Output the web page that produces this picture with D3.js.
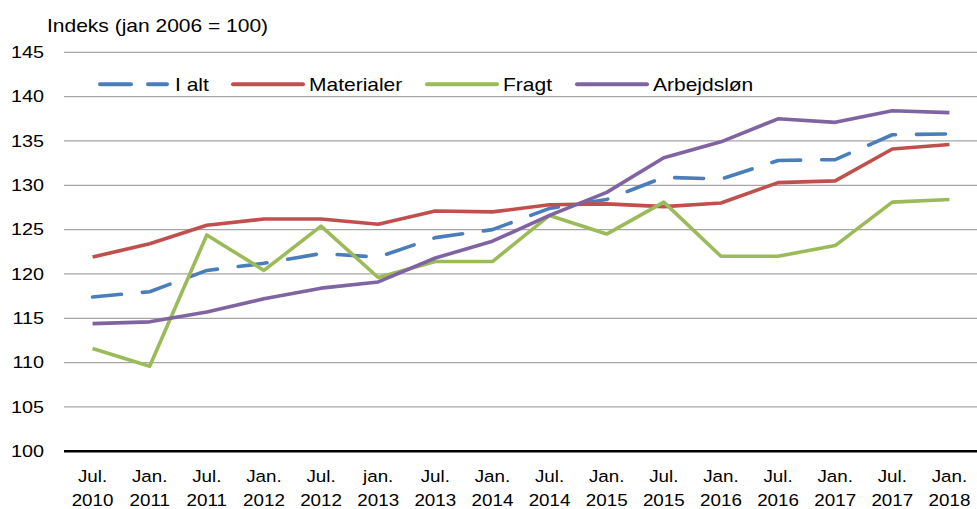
<!DOCTYPE html>
<html>
  <head>
    <meta charset="utf-8">
    <style>
      body { margin: 0; background: #fff; }
      text { font-family: "Liberation Sans", Arial, sans-serif; fill: #000; }
      .grid line { stroke: #a6a6a6; stroke-width: 1.3; }
      .series { fill: none; stroke-width: 3.6; stroke-linejoin: round; }
    </style>
  </head>
  <body>
    <svg width="977" height="509"></svg>
    <script src="https://cdn.jsdelivr.net/npm/d3@7"></script>
    <script>
      // Category labels (two lines each)
      var months = ["Jul.", "Jan.", "Jul.", "Jan.", "Jul.", "jan.", "Jul.", "Jan.",
                    "Jul.", "Jan.", "Jul.", "Jan.", "Jul.", "Jan.", "Jul.", "Jan."];
      var years = ["2010", "2011", "2011", "2012", "2012", "2013", "2013", "2014",
                   "2014", "2015", "2015", "2016", "2016", "2017", "2017", "2018"];
      var yTicks = [100, 105, 110, 115, 120, 125, 130, 135, 140, 145];

      var iAlt = [117.4, 118.0, 120.4, 121.2, 122.3, 121.9, 124.1, 125.0,
                  127.4, 128.4, 130.9, 130.7, 132.8, 132.9, 135.7, 135.8];
      var materialer = [121.9, 123.4, 125.5, 126.2, 126.2, 125.6, 127.1, 127.0,
                        127.8, 127.9, 127.6, 128.0, 130.3, 130.5, 134.1, 134.6];
      var fragt = [111.6, 109.6, 124.4, 120.4, 125.4, 119.6, 121.4, 121.4,
                   126.6, 124.5, 128.1, 122.0, 122.0, 123.2, 128.1, 128.4];
      var arbejdslon = [114.4, 114.6, 115.7, 117.2, 118.4, 119.1, 121.8, 123.7,
                        126.6, 129.2, 133.1, 134.9, 137.5, 137.1, 138.4, 138.2];

      var series = [
        { name: "I alt", values: iAlt, color: "#4a7ebb", dash: "29,21" },
        { name: "Materialer", values: materialer, color: "#c0504d", dash: null },
        { name: "Fragt", values: fragt, color: "#9bbb59", dash: null },
        { name: "Arbejdsløn", values: arbejdslon, color: "#8064a2", dash: null }
      ];

      var svg = d3.select("svg");
      var plotLeft = 64, plotRight = 978, plotTop = 52.3, plotBottom = 451.3;
      var sx = 1.2; // the reference glyphs are a bit wider than plain Arial

      var x = d3.scaleBand().domain(d3.range(months.length)).range([plotLeft, plotRight]);
      var y = d3.scaleLinear().domain([100, 145]).range([plotBottom, plotTop]);

      // Gridlines
      svg.append("g").attr("class", "grid")
        .selectAll("line")
        .data(yTicks.filter(d => d > 100))
        .enter().append("line")
        .attr("x1", plotLeft).attr("x2", plotRight)
        .attr("y1", d => y(d)).attr("y2", d => y(d));

      // Y axis labels
      svg.append("g")
        .selectAll("text")
        .data(yTicks)
        .enter().append("text")
        .attr("transform", d => `translate(44,${y(d) + 5.8}) scale(${sx},1)`)
        .attr("text-anchor", "end")
        .style("font-size", "16.5px")
        .text(d => d);

      // Title
      svg.append("text")
        .attr("transform", `translate(47,31.5) scale(${sx},1)`)
        .style("font-size", "17.5px")
        .text("Indeks (jan 2006 = 100)");

      // Lines
      var line = d3.line()
        .x((d, i) => x(i) + x.bandwidth() / 2)
        .y(d => y(d));

      svg.append("g")
        .selectAll("path")
        .data(series)
        .enter().append("path")
        .attr("class", "series")
        .attr("stroke", d => d.color)
        .attr("stroke-dasharray", d => d.dash)
        .attr("stroke-linecap", d => d.dash ? "round" : "butt")
        .attr("d", d => line(d.values));

      // Baseline
      svg.append("line")
        .attr("x1", plotLeft).attr("x2", plotRight)
        .attr("y1", y(100)).attr("y2", y(100))
        .attr("stroke", "#000").attr("stroke-width", 2.5);

      // X axis labels
      var xl = svg.append("g")
        .selectAll("text")
        .data(months)
        .enter().append("text")
        .attr("transform", (d, i) => `translate(${x(i) + x.bandwidth() / 2},0) scale(1.14,1)`)
        .attr("text-anchor", "middle")
        .style("font-size", "16.5px");
      xl.append("tspan")
        .attr("x", 0)
        .attr("y", 482)
        .text(d => d);
      xl.append("tspan")
        .attr("x", 0)
        .attr("y", 506.5)
        .text((d, i) => years[i]);

      // Legend
      var legendX = [98, 233, 427, 577];
      var legend = svg.append("g")
        .selectAll("g")
        .data(series)
        .enter().append("g")
        .attr("transform", (d, i) => `translate(${legendX[i]},84.3)`);
      legend.append("line")
        .attr("x1", d => d.dash ? 2 : 0).attr("x2", d => d.dash ? 69 : 70)
        .attr("stroke", d => d.color)
        .attr("stroke-width", 4)
        .attr("stroke-dasharray", d => d.dash ? "31,17" : null)
        .attr("stroke-linecap", "round");
      legend.append("text")
        .attr("transform", (d, i) => `translate(${i === 0 ? 77 : 76},6.2) scale(${sx},1)`)
        .style("font-size", "17.5px")
        .text(d => d.name);
    </script>
  </body>
</html>
